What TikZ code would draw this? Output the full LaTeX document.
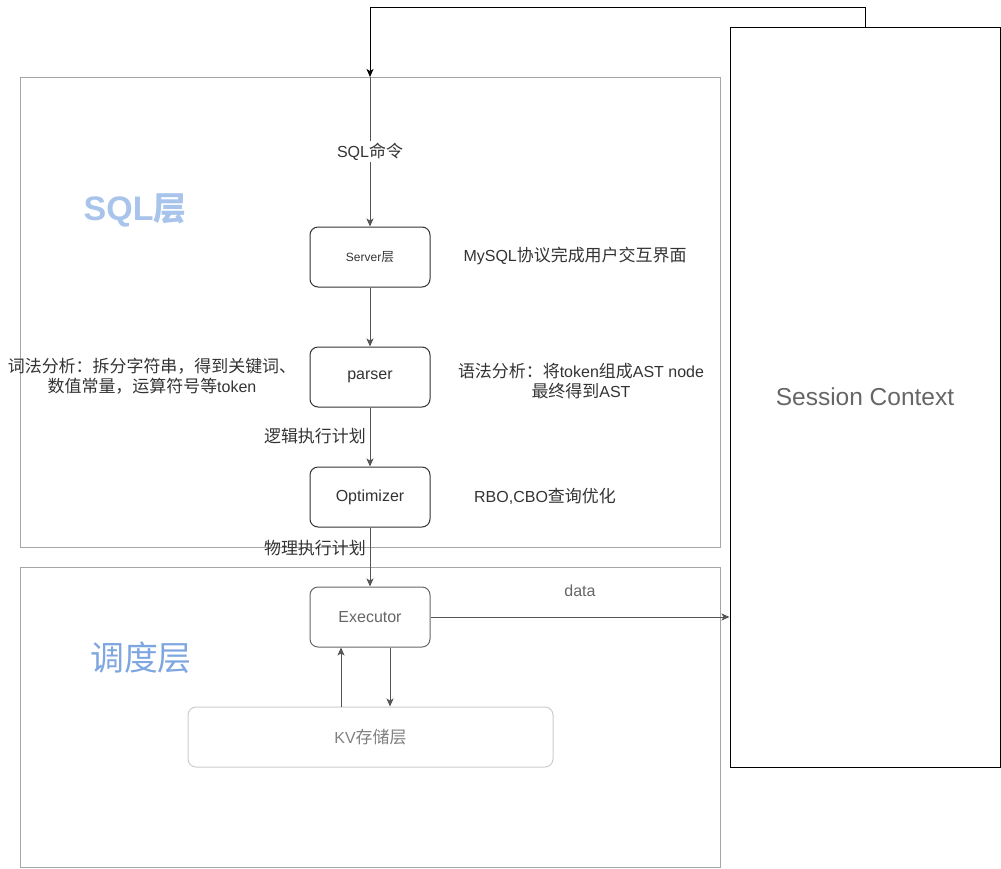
\documentclass[tikz,border=0pt]{standalone}
\usepackage{fontspec}
\setmainfont{Liberation Sans}
\newfontfamily\cjk[Scale=1.06]{Noto Sans CJK SC}
\newcommand\zh[1]{{\cjk #1}}
\usetikzlibrary{arrows.meta}
\definecolor{txtdark}{HTML}{333333}
\definecolor{txtgray}{HTML}{666666}
\definecolor{kvgray}{HTML}{808080}
\definecolor{arrgray}{HTML}{555555}
\definecolor{layerline}{HTML}{A6A6A6}
\definecolor{kvline}{HTML}{CCCCCC}
\definecolor{blueA}{HTML}{A9C4EB}
\definecolor{blueB}{HTML}{7EA6E0}
\begin{document}
\begin{tikzpicture}[x=1pt,y=-1pt,
  layerbox/.style={draw=layerline, line width=1pt, anchor=north west, inner sep=0pt},
  procbox/.style={draw=txtdark, rounded corners=8pt, minimum width=120pt, minimum height=60pt,
     inner sep=0pt, line width=1pt, font=\fontsize{16}{20}\selectfont, text=txtdark},
  note/.style={font=\fontsize{16}{20}\selectfont, text=txtdark, align=center, inner sep=0pt},
  arr/.style={draw=arrgray, line width=1pt, -{Stealth[length=8pt,width=7pt,inset=2pt]}},
  fbarr/.style={draw=black, line width=1pt, -{Stealth[length=8pt,width=7pt,inset=2pt]}}
]
\useasboundingbox (0,0) rectangle (1001,868);

% layers
\node[layerbox, minimum width=700pt, minimum height=470pt] (sqllayer) at (20,77) {};
\node[layerbox, minimum width=700pt, minimum height=300pt] (schedlayer) at (20,567) {};
\node[draw=black, line width=1pt, minimum width=270pt, minimum height=740pt, inner sep=0pt,
      font=\fontsize{24.5}{28}\selectfont, text=txtgray] (sess) at (865,397) {Session Context};

% layer titles
\node[font=\fontsize{34}{38}\selectfont\bfseries, text=blueA, inner sep=0pt] (sqltitle) at (135,210) {SQL{\cjk\fontsize{31}{36}\selectfont 层}};
\node[font=\fontsize{32}{36}\selectfont, text=blueB, inner sep=0pt] (schedtitle) at (141,658) {\zh{调度层}};

% process nodes
\node[procbox, font=\fontsize{12}{14}\selectfont] (server) at (370,257) {Server\zh{层}};
\node[procbox] (parser) at (370,377) {parser};
\node[procbox] (opt) at (370,497) {Optimizer};
\node[procbox, draw=txtgray, text=txtgray] (exec) at (370,617) {Executor};
\node[procbox, draw=kvline, text=kvgray, minimum width=365pt] (kv) at (370.5,737) {KV\zh{存储层}};

% notes
\node[note] (n1) at (575,256) {MySQL\zh{协议完成用户交互界面}};
\node[note] (n2) at (581,381) {\zh{语法分析：将}token\zh{组成}AST node\\\zh{最终得到}AST};
\node[note] (n3) at (545,496) {RBO,CBO\zh{查询优化}};
\node[note] (n4) at (152,376) {\zh{词法分析：拆分字符串，得到关键词、}\\\zh{数值常量，运算符号等}token};

% connectors
\coordinate (sqlin) at (370,77);
\coordinate (kvup) at (341,0);
\coordinate (kvdown) at (390,0);
\draw[fbarr] (sess.north) -- ++(0,-19.5) -| (sqlin);
\draw[arr] (sqlin) -- node[note, fill=white, inner sep=2pt] {SQL\zh{命令}} (server.north);
\draw[arr] (server.south) -- (parser.north);
\draw[arr] (parser.south) -- (opt.north);
\node[note, anchor=east] (l1) at (366,436) {\zh{逻辑执行计划}};
\draw[arr] (opt.south) -- (exec.north);
\node[note, anchor=east] (l2) at (366,548) {\zh{物理执行计划}};
\draw[arr] (exec.east) -- (exec.east -| sess.west);
\node[note, text=txtgray] (datalbl) at (580,591) {data};
\draw[arr] (kv.north -| kvup) -- (exec.south -| kvup);
\draw[arr] (exec.south -| kvdown) -- (kv.north -| kvdown);
\end{tikzpicture}
\end{document}
